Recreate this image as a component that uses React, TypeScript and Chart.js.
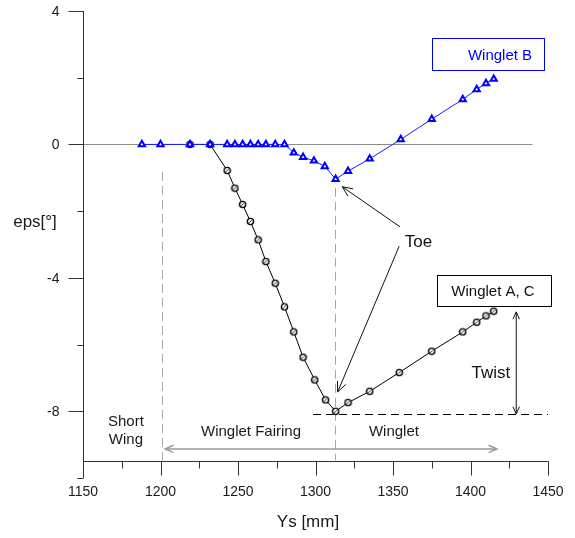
import React, { useEffect, useRef } from "react";
import { Chart, registerables } from "chart.js";

Chart.register(...registerables);

// ---- data ----
const wingletBX = [1188, 1200, 1219, 1232, 1243, 1248, 1253, 1258, 1263, 1268, 1274, 1280, 1286, 1292, 1299, 1306, 1313, 1321, 1335, 1355, 1375, 1395, 1404, 1410, 1415];
const wingletBY = [0, 0, 0, 0, 0, 0, 0, 0, 0, 0, 0, 0, -0.25, -0.38, -0.49, -0.66, -1.04, -0.8, -0.43, 0.15, 0.76, 1.35, 1.65, 1.83, 1.96];

const wingletACX = [1219, 1232, 1243, 1248, 1253, 1258, 1263, 1268, 1274, 1280, 1286, 1292, 1299.5, 1306.5, 1313, 1321, 1335, 1354, 1375, 1395, 1404, 1410, 1415];
const wingletACY = [0, 0, -0.78, -1.31, -1.8, -2.31, -2.86, -3.51, -4.16, -4.87, -5.62, -6.38, -7.06, -7.66, -8.0, -7.74, -7.4, -6.84, -6.2, -5.62, -5.33, -5.14, -5.0];

const xMajorTicks = [1150, 1200, 1250, 1300, 1350, 1400, 1450];
const xMinorTicks = [1175, 1225, 1275, 1325, 1375, 1425];
const yMajorTicks = [4, 0, -4, -8];
const yMinorTicks = [2, -2, -6, -10];

const FONT = '"Liberation Sans", Arial, sans-serif';

function makeCircleSlash(): HTMLCanvasElement {
  const c = document.createElement("canvas");
  c.width = 9;
  c.height = 9;
  const g = c.getContext("2d")!;
  g.strokeStyle = "#000";
  g.lineWidth = 1.4;
  g.fillStyle = "#fff";
  g.beginPath();
  g.arc(4.5, 4.5, 3.1, 0, Math.PI * 2);
  g.fill();
  g.stroke();
  g.lineWidth = 0.8;
  g.beginPath();
  g.moveTo(3.2, 5.8);
  g.lineTo(5.8, 3.2);
  g.stroke();
  return c;
}

function arrowHead(ctx: CanvasRenderingContext2D, fx: number, fy: number, tx: number, ty: number, len: number) {
  const a = Math.atan2(ty - fy, tx - fx);
  const sp = 0.42;
  ctx.beginPath();
  ctx.moveTo(tx - len * Math.cos(a - sp), ty - len * Math.sin(a - sp));
  ctx.lineTo(tx, ty);
  ctx.lineTo(tx - len * Math.cos(a + sp), ty - len * Math.sin(a + sp));
  ctx.stroke();
}

function arrow(ctx: CanvasRenderingContext2D, x1: number, y1: number, x2: number, y2: number, both: boolean, len: number) {
  ctx.beginPath();
  ctx.moveTo(x1, y1);
  ctx.lineTo(x2, y2);
  ctx.stroke();
  arrowHead(ctx, x1, y1, x2, y2, len);
  if (both) arrowHead(ctx, x2, y2, x1, y1, len);
}

const decorPlugin = {
  id: "decor",
  beforeDatasetsDraw(chart: any) {
    const ctx: CanvasRenderingContext2D = chart.ctx;
    const xs = chart.scales.x;
    const ys = chart.scales.y;
    const X = (v: number) => xs.getPixelForValue(v);
    const Y = (v: number) => ys.getPixelForValue(v);
    ctx.save();
    // zero line
    ctx.strokeStyle = "#8c8c8c";
    ctx.lineWidth = 1;
    ctx.beginPath();
    ctx.moveTo(X(1150), Math.round(Y(0)) + 0.5);
    ctx.lineTo(X(1440), Math.round(Y(0)) + 0.5);
    ctx.stroke();
    // vertical dashed lines
    ctx.strokeStyle = "#a8a8a8";
    ctx.setLineDash([9, 5]);
    ctx.beginPath();
    ctx.moveTo(Math.round(X(1201)) + 0.5, Y(-0.82));
    ctx.lineTo(Math.round(X(1201)) + 0.5, Y(-9.48));
    ctx.moveTo(Math.round(X(1312.3)) + 0.5, Y(-1.3));
    ctx.lineTo(Math.round(X(1312.3)) + 0.5, Y(-9.48));
    ctx.stroke();
    // black dashed twist reference
    ctx.strokeStyle = "#000";
    ctx.setLineDash([8, 5]);
    ctx.beginPath();
    ctx.moveTo(X(1298.4), Math.round(Y(-8.08)) + 0.5);
    ctx.lineTo(X(1450), Math.round(Y(-8.08)) + 0.5);
    ctx.stroke();
    ctx.setLineDash([]);
    ctx.restore();
  },
  afterDraw(chart: any) {
    const ctx: CanvasRenderingContext2D = chart.ctx;
    const xs = chart.scales.x;
    const ys = chart.scales.y;
    const X = (v: number) => xs.getPixelForValue(v);
    const Y = (v: number) => ys.getPixelForValue(v);
    ctx.save();
    const axisColor = "#333";
    ctx.strokeStyle = axisColor;
    ctx.lineWidth = 1;
    // y axis
    const ax = Math.round(X(1150)) + 0.5;
    ctx.beginPath();
    ctx.moveTo(ax, Y(4));
    ctx.lineTo(ax, Y(-10));
    ctx.stroke();
    yMajorTicks.forEach((v) => {
      const y = Math.round(Y(v)) + 0.5;
      ctx.beginPath();
      ctx.moveTo(ax - 15, y);
      ctx.lineTo(ax, y);
      ctx.stroke();
    });
    yMinorTicks.forEach((v) => {
      const y = Math.round(Y(v)) + 0.5;
      ctx.beginPath();
      ctx.moveTo(ax - 6, y);
      ctx.lineTo(ax, y);
      ctx.stroke();
    });
    ctx.fillStyle = "#1a1a1a";
    ctx.font = `14px ${FONT}`;
    ctx.textAlign = "right";
    ctx.textBaseline = "middle";
    yMajorTicks.forEach((v) => {
      ctx.fillText(String(v), ax - 24, Y(v) + 1);
    });
    // x axis (offset)
    const axY = Math.round(Y(-9.48)) + 0.5;
    ctx.beginPath();
    ctx.moveTo(X(1150), axY);
    ctx.lineTo(X(1450) + 0.5, axY);
    ctx.stroke();
    xMajorTicks.forEach((v) => {
      const x = Math.round(X(v)) + 0.5;
      ctx.beginPath();
      ctx.moveTo(x, axY);
      ctx.lineTo(x, axY + 14);
      ctx.stroke();
    });
    xMinorTicks.forEach((v) => {
      const x = Math.round(X(v)) + 0.5;
      ctx.beginPath();
      ctx.moveTo(x, axY);
      ctx.lineTo(x, axY + 7);
      ctx.stroke();
    });
    ctx.textAlign = "center";
    xMajorTicks.forEach((v) => {
      ctx.fillText(String(v), X(v), axY + 31);
    });
    // axis titles
    ctx.font = `17px ${FONT}`;
    ctx.fillText("Ys [mm]", 308, axY + 61);
    ctx.fillText("eps[°]", 35, 222);

    // region labels
    ctx.font = `15px ${FONT}`;
    ctx.fillText("Short", X(1177.7), Y(-8.32));
    ctx.fillText("Wing", X(1177.7), Y(-8.86));
    ctx.fillText("Winglet Fairing", X(1258.4), Y(-8.62));
    ctx.fillText("Winglet", X(1350.6), Y(-8.62));

    // gray span arrow
    ctx.strokeStyle = "#9a9a9a";
    ctx.lineWidth = 1.5;
    arrow(ctx, X(1203), Y(-9.13), X(1417), Y(-9.13), true, 9);

    // Toe arrows + text
    ctx.strokeStyle = "#111";
    ctx.lineWidth = 1;
    arrow(ctx, X(1354.5), Y(-2.47), X(1317.3), Y(-1.27), false, 11);
    arrow(ctx, X(1354), Y(-3.05), X(1314.3), Y(-7.42), false, 11);
    ctx.font = `17px ${FONT}`;
    ctx.fillStyle = "#111";
    ctx.fillText("Toe", X(1366.5), Y(-2.93));

    // Twist
    arrow(ctx, X(1429.5), Y(-5.02), X(1429.5), Y(-8.08), true, 8);
    ctx.fillText("Twist", X(1413.2), Y(-6.85));

    // boxes
    const box = (x1: number, y1: number, x2: number, y2: number, color: string, text: string, tx: number) => {
      const l = Math.round(X(x1)) + 0.5;
      const t = Math.round(Y(y1)) + 0.5;
      const r = Math.round(X(x2)) + 0.5;
      const b = Math.round(Y(y2)) + 0.5;
      ctx.fillStyle = "#fff";
      ctx.fillRect(l, t, r - l, b - t);
      ctx.strokeStyle = color;
      ctx.lineWidth = 1;
      ctx.strokeRect(l, t, r - l, b - t);
      ctx.fillStyle = color === "#000" ? "#111" : color;
      ctx.font = `15px ${FONT}`;
      ctx.fillText(text, tx, (t + b) / 2 + 1);
    };
    box(1378.2, -3.91, 1451.7, -4.85, "#000", "Winglet A, C", 493);
    box(1375, 3.2, 1447.6, 2.23, "#0000ff", "Winglet B", 500);
    ctx.restore();
  },
};

export default function App() {
  const ref = useRef<HTMLCanvasElement | null>(null);
  useEffect(() => {
    document.body.style.margin = "0";
    const canvas = ref.current!;
    const circle = makeCircleSlash();
    const chart = new Chart(canvas, {
      type: "line",
      data: {
        datasets: [
          {
            label: "Winglet B",
            data: wingletBX.map((x, i) => ({ x, y: wingletBY[i] })),
            borderColor: "#1a1aff",
            borderWidth: 1,
            pointStyle: "triangle",
            pointRadius: 3.6,
            pointBorderWidth: 2,
            pointBorderColor: "#0000ff",
            pointBackgroundColor: "#ffffff",
            tension: 0,
            order: 1,
          },
          {
            label: "Winglet A, C",
            data: wingletACX.map((x, i) => ({ x, y: wingletACY[i] })),
            borderColor: "#000",
            borderWidth: 1,
            pointStyle: circle as any,
            pointRadius: 4,
            tension: 0,
            order: 2,
          },
        ],
      },
      options: {
        responsive: false,
        animation: false,
        layout: { padding: { left: 83, right: 27, top: 11, bottom: 60 } },
        plugins: { legend: { display: false }, tooltip: { enabled: false } },
        scales: {
          x: { type: "linear", min: 1150, max: 1450, display: false },
          y: { type: "linear", min: -10, max: 4, display: false },
        },
      },
      plugins: [decorPlugin],
    });
    return () => chart.destroy();
  }, []);
  return <canvas ref={ref} width={575} height={538} style={{ display: "block" }} />;
}
